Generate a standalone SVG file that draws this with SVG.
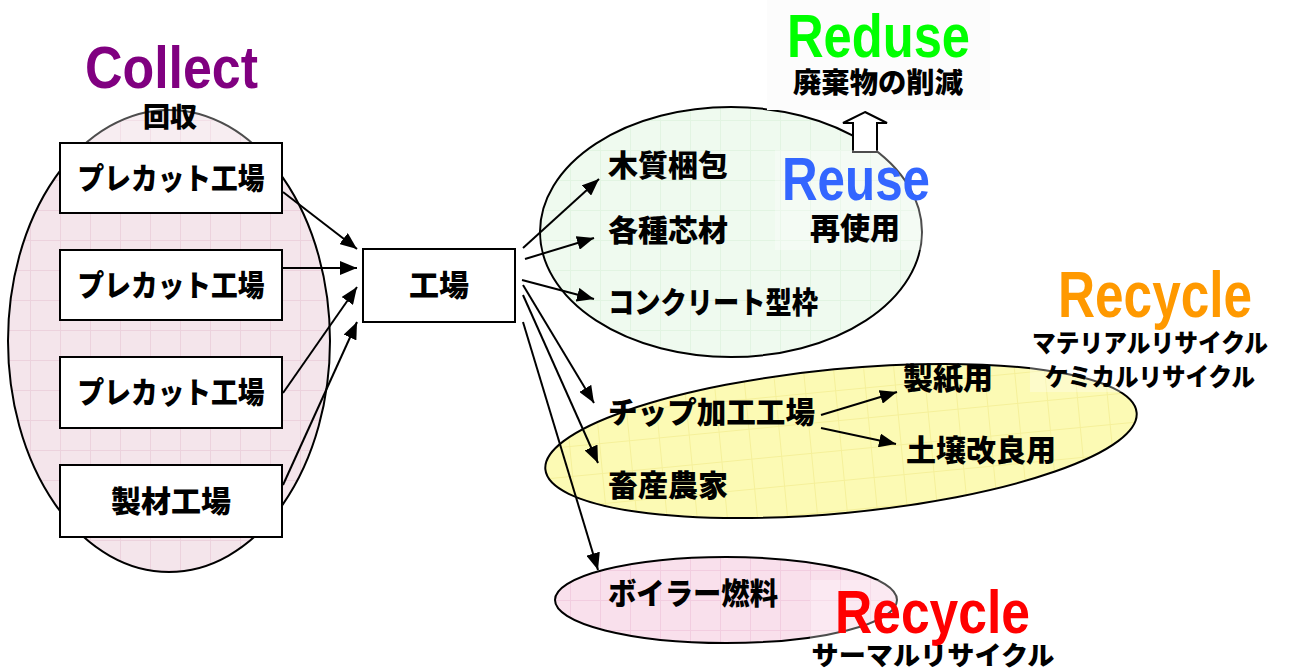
<svg xmlns="http://www.w3.org/2000/svg" width="1289" height="671" viewBox="0 0 1289 671">
<style>
.jp{font-family:"Noto Sans CJK JP","Noto Sans",sans-serif;font-weight:900;fill:#000}
.en{font-family:"Liberation Sans",Arial,sans-serif;font-weight:700}
.box{fill:#fff;stroke:#000;stroke-width:2}
.ell{stroke:#000;stroke-width:2}
.con{stroke:#000;stroke-width:2;fill:none;marker-end:url(#ah)}
.veil{fill:#fff;fill-opacity:0.3}
</style>
<defs>
<marker id="ah" markerUnits="userSpaceOnUse" markerWidth="18" markerHeight="14" refX="17" refY="7" orient="auto">
<path d="M0,0 L17,7 L0,14 z" fill="#000"/>
</marker>
<pattern id="gpink" width="30" height="30" patternUnits="userSpaceOnUse">
<rect width="30" height="30" fill="#f4e5eb"/>
<path d="M0,0.5 H30 M0.5,0 V30" stroke="#ecd2dd" stroke-width="1"/>
</pattern>
<pattern id="ggreen" width="30" height="30" patternUnits="userSpaceOnUse">
<rect width="30" height="30" fill="#effaef"/>
<path d="M0,0.5 H30 M0.5,0 V30" stroke="#e2f4e2" stroke-width="1"/>
</pattern>
<pattern id="gyellow" width="30" height="30" patternUnits="userSpaceOnUse">
<rect width="30" height="30" fill="#fcfab4"/>
<path d="M0,0.5 H30 M0.5,0 V30" stroke="#f5f09a" stroke-width="1"/>
</pattern>
<pattern id="gpink2" width="30" height="30" patternUnits="userSpaceOnUse">
<rect width="30" height="30" fill="#f9e0ec"/>
<path d="M0,0.5 H30 M0.5,0 V30" stroke="#f2cde0" stroke-width="1"/>
</pattern>
</defs>
<rect width="1289" height="671" fill="#fff"/>

<g id="collect-area">
<ellipse class="ell" cx="169" cy="341" rx="161" ry="231" fill="url(#gpink)"/>
<rect class="veil" x="55" y="30" width="227" height="112"/>
<text class="en" x="85" y="88" font-size="60" fill="#800080" textLength="173" lengthAdjust="spacingAndGlyphs">Collect</text>
<text class="jp" x="170" y="127" font-size="27" text-anchor="middle">回収</text>
</g>

<g id="reuse-area">
<ellipse class="ell" cx="731" cy="232" rx="191" ry="125" fill="url(#ggreen)"/>
</g>
<g id="recycle-area">
<ellipse class="ell" cx="841" cy="441" rx="297" ry="72" transform="rotate(-5.5 841 441)" fill="url(#gyellow)"/>
</g>
<g id="thermal-area">
<ellipse class="ell" cx="726" cy="600" rx="171" ry="43" fill="url(#gpink2)"/>
</g>

<g id="connectors">
<line class="con" x1="283" y1="192" x2="357" y2="249"/>
<line class="con" x1="283" y1="268" x2="357" y2="268"/>
<line class="con" x1="283" y1="393" x2="357" y2="287"/>
<line class="con" x1="283" y1="485" x2="357" y2="322"/>
<line class="con" x1="523" y1="248" x2="599" y2="179"/>
<line class="con" x1="525" y1="259" x2="594" y2="238"/>
<line class="con" x1="522" y1="280" x2="594" y2="299"/>
<line class="con" x1="523" y1="285" x2="594" y2="403"/>
<line class="con" x1="523" y1="295" x2="598" y2="463"/>
<line class="con" x1="523" y1="322" x2="598" y2="570"/>
<line class="con" x1="821" y1="415" x2="897" y2="392"/>
<line class="con" x1="821" y1="428" x2="896" y2="444"/>
</g>

<g id="n-precut1"><rect class="box" x="60" y="143" width="222" height="70"/><text class="jp" x="171" y="189" font-size="30" text-anchor="middle" textLength="187" lengthAdjust="spacingAndGlyphs">プレカット工場</text></g>
<g id="n-precut2"><rect class="box" x="60" y="250" width="222" height="70"/><text class="jp" x="171" y="296" font-size="30" text-anchor="middle" textLength="187" lengthAdjust="spacingAndGlyphs">プレカット工場</text></g>
<g id="n-precut3"><rect class="box" x="60" y="357" width="222" height="71"/><text class="jp" x="171" y="403" font-size="30" text-anchor="middle" textLength="187" lengthAdjust="spacingAndGlyphs">プレカット工場</text></g>
<g id="n-sawmill"><rect class="box" x="60" y="465" width="222" height="72"/><text class="jp" x="171" y="512" font-size="30" text-anchor="middle">製材工場</text></g>
<g id="n-factory"><rect class="box" x="363" y="249" width="152" height="73"/><text class="jp" x="439" y="296" font-size="30" text-anchor="middle">工場</text></g>

<g id="n-mokushitsu"><text class="jp" x="608" y="176" font-size="30">木質梱包</text></g>
<g id="n-shinzai"><text class="jp" x="608" y="241" font-size="30">各種芯材</text></g>
<g id="n-kata"><text class="jp" x="608" y="313" font-size="30" textLength="210" lengthAdjust="spacingAndGlyphs">コンクリート型枠</text></g>
<g id="n-chip"><text class="jp" x="608" y="423" font-size="30" textLength="207" lengthAdjust="spacingAndGlyphs">チップ加工工場</text></g>
<g id="n-chikusan"><text class="jp" x="608" y="496" font-size="30">畜産農家</text></g>
<g id="n-seishi"><text class="jp" x="903" y="389" font-size="30">製紙用</text></g>
<g id="n-dojou"><text class="jp" x="906" y="461" font-size="30">土壌改良用</text></g>
<g id="n-boiler"><text class="jp" x="608" y="604" font-size="30" textLength="170" lengthAdjust="spacingAndGlyphs">ボイラー燃料</text></g>

<g id="label-reduse">
<rect x="767" y="0" width="223" height="110" fill="#fcfcfc"/>
<text class="en" x="787" y="57" font-size="62" fill="#00ff00" textLength="183" lengthAdjust="spacingAndGlyphs">Reduse</text>
<text class="jp" x="878" y="93" font-size="28" text-anchor="middle" textLength="170" lengthAdjust="spacingAndGlyphs">廃棄物の削減</text>
<path d="M865,112 L887,123 L877,123 L877,152 L853,152 L853,123 L843,123 Z" fill="#fff" stroke="#000" stroke-width="2"/>
</g>
<g id="label-reuse">
<rect class="veil" x="775" y="150" width="160" height="100"/>
<text class="en" x="782" y="200" font-size="62" fill="#3366ff" textLength="148" lengthAdjust="spacingAndGlyphs">Reuse</text>
<text class="jp" x="855" y="239" font-size="30" text-anchor="middle">再使用</text>
</g>
<g id="label-recycle-material">
<rect class="veil" x="1030" y="262" width="245" height="130"/>
<text class="en" x="1058" y="317" font-size="64" fill="#ff9900" textLength="194" lengthAdjust="spacingAndGlyphs">Recycle</text>
<text class="jp" x="1150" y="352" font-size="25" text-anchor="middle" textLength="236" lengthAdjust="spacingAndGlyphs">マテリアルリサイクル</text>
<text class="jp" x="1150" y="386" font-size="25" text-anchor="middle" textLength="210" lengthAdjust="spacingAndGlyphs">ケミカルリサイクル</text>
</g>
<g id="label-recycle-thermal">
<rect class="veil" x="810" y="580" width="250" height="91"/>
<text class="en" x="835" y="633" font-size="62" fill="#ff0000" textLength="195" lengthAdjust="spacingAndGlyphs">Recycle</text>
<text class="jp" x="933" y="665" font-size="26" text-anchor="middle" textLength="243" lengthAdjust="spacingAndGlyphs">サーマルリサイクル</text>
</g>
</svg>
